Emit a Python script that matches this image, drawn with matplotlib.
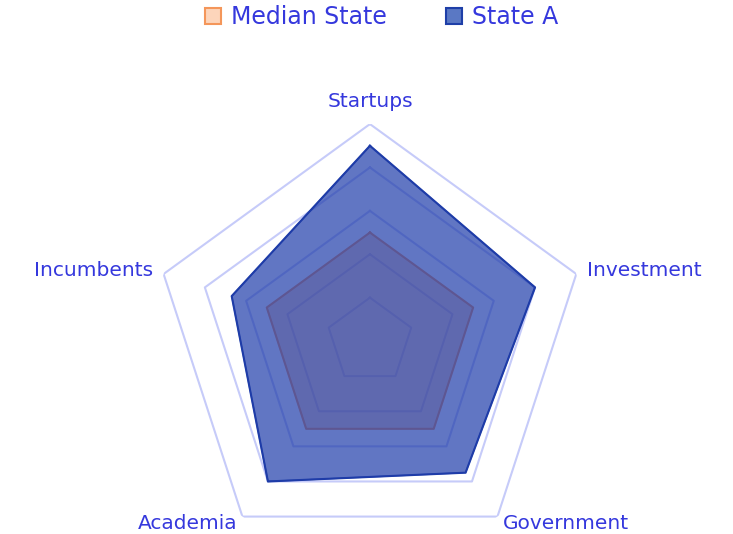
import numpy as np
import matplotlib.pyplot as plt
from matplotlib.patches import Patch

# chart data
categories = ['Startups', 'Investment', 'Government', 'Academia', 'Incumbents']
median_state = [50, 50, 50, 50, 50]
state_a = [90, 80, 75, 80, 67]
grid_levels = [20, 40, 60, 80, 100]

text_color = '#3538dd'
grid_color = '#c6cbf9'

fig = plt.figure(figsize=(7.33, 5.34), dpi=100)
ax = fig.add_axes([0.2087, -0.045, 0.592, 0.8127], projection='polar')
ax.set_theta_offset(np.pi / 2)
ax.set_theta_direction(-1)
ax.set_ylim(0, 100)

n = len(categories)
angles = np.linspace(0, 2 * np.pi, n, endpoint=False)
closed = np.append(angles, angles[0])

# pentagon grid instead of circles
ax.grid(False)
ax.spines['polar'].set_visible(False)
ax.set_xticks([])
ax.set_yticks([])
for lvl in grid_levels:
    ax.plot(closed, [lvl] * (n + 1), color=grid_color, lw=1.5, zorder=1)

# Median State under, State A over it
ax.fill(closed, median_state + median_state[:1], color='#f4965a', alpha=0.4, zorder=2)
ax.plot(closed, median_state + median_state[:1], color='#f4965a', lw=1.5, zorder=2)
ax.fill(closed, state_a + state_a[:1], color='#1e3caa', alpha=0.7, zorder=3)
ax.plot(closed, state_a + state_a[:1], color='#1e3ca8', lw=1.5, zorder=3)

# axis labels around the pentagon
label_pos = [(0.0, 106, 'center', 'bottom'),
             (angles[1], 105, 'left', 'center'),
             (angles[2], 104, 'left', 'center'),
             (angles[3], 104, 'right', 'center'),
             (angles[4], 105, 'right', 'center')]
for name, (th, r, ha, va) in zip(categories, label_pos):
    ax.text(th, r, name, ha=ha, va=va, color=text_color, fontsize=14.5)

handles = [Patch(facecolor='#fdd5bb', edgecolor='#f4965a', lw=1.5, label='Median State'),
           Patch(facecolor='#5a78c4', edgecolor='#1e3fa8', lw=1.5, label='State A')]
leg = fig.legend(handles=handles, loc='upper center', bbox_to_anchor=(0.521, 1.03),
                 ncol=2, frameon=False, fontsize=17, handlelength=0.65, handleheight=0.65,
                 handletextpad=0.45, columnspacing=2.5)
for t in leg.get_texts():
    t.set_color(text_color)

fig.savefig('out.png', dpi=100)
